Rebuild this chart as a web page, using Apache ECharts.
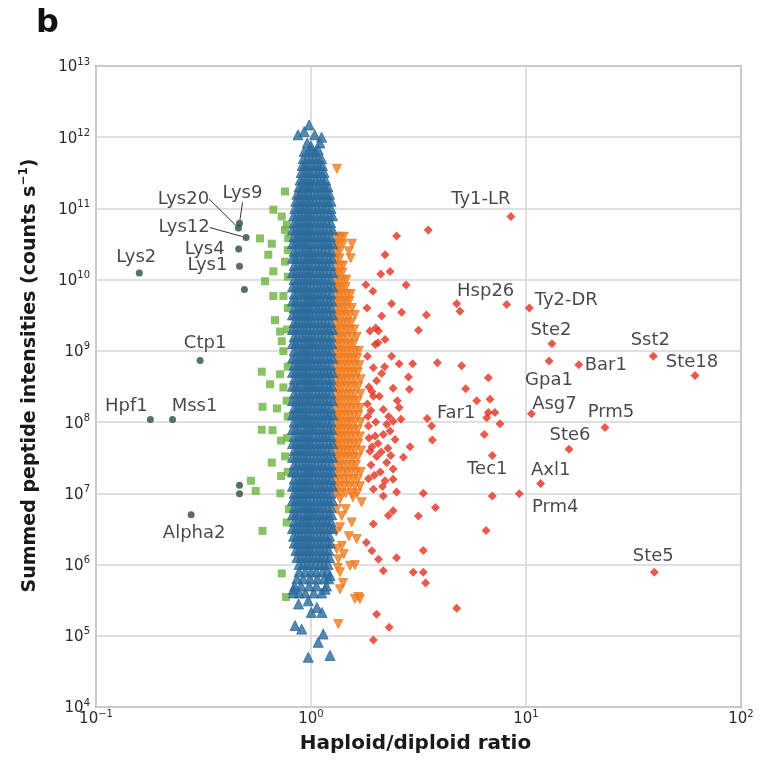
<!DOCTYPE html>
<html><head><meta charset="utf-8">
<script src="https://cdn.jsdelivr.net/npm/echarts@6/dist/echarts.min.js"></script>
<style>html,body{margin:0;padding:0;background:#fff}#c{width:763px;height:760px}</style>
</head><body><div id="c"></div>
<script>
// ---------- DATA ----------
const xTicks = [0.1, 1, 10, 100];
const yTicks = [1e4, 1e5, 1e6, 1e7, 1e8, 1e9, 1e10, 1e11, 1e12, 1e13];

// dark green (labelled genes, low ratio)
const darkNames = ['Lys2','Lys9','Lys20','Lys12','Lys4','Lys1','','Ctp1','Hpf1','Mss1','Alpha2','',''];
const darkX = [0.159,0.465,0.46,0.499,0.461,0.465,0.49,0.305,0.179,0.227,0.277,0.465,0.465];
const darkY = [1.24e10,6.2e10,5.3e10,3.9e10,2.7e10,1.54e10,7.3e9,7.3e8,1.09e8,1.09e8,4.99e6,1.3e7,9.9e6];

// red labelled genes
const redNames = ['Ty1-LR','Hsp26','Ty2-DR','Ste2','Sst2','Ste18','Bar1','Gpa1','Asg7','Prm5','Ste6','Axl1','Prm4','Tec1','Far1','Ste5'];
const redNamedX = [8.51,8.13,10.36,13.2,39.1,61.1,17.6,12.8,10.6,23.3,15.85,11.7,9.3,6.97,3.47,39.5];
const redNamedY = [7.7e10,4.47e9,4.0e9,1.26e9,8.4e8,4.5e8,6.4e8,7.2e8,1.31e8,8.4e7,4.15e7,1.37e7,9.9e6,3.4e7,1.12e8,7.8e5];

// red unlabelled
const redPoints = [[3.51,5.0e10],[2.50,4.1e10],[2.21,2.24e10],[2.33,1.3e10],[2.11,1.2e10],[2.77,8.4e9],[1.80,8.5e9],[1.94,6.9e9],
[2.37,4.6e9],[2.64,3.5e9],[3.44,3.2e9],[2.13,3.1e9],[3.16,1.95e9],[1.88,1.9e9],[2.06,1.9e9],[2.21,1.44e9],[1.99,1.23e9],
[1.83,8.4e8],[2.37,8.4e8],[2.57,6.6e8],[2.97,6.6e8],[3.87,6.8e8],[5.02,6.2e8],[6.68,4.2e8],[1.95,5.8e8],[2.13,4.8e8],
[2.02,3.8e8],[2.84,4.3e8],[2.41,3.0e8],[2.87,2.9e8],[5.24,2.95e8],[1.92,2.7e8],[1.95,2.3e8],[5.90,2.0e8],[6.80,2.1e8],
[2.17,1.5e8],[2.57,1.6e8],[6.68,1.36e8],[7.17,1.36e8],[6.57,1.15e8],[7.57,9.5e7],[6.40,6.7e7],[3.64,8.8e7],[3.67,5.6e7],
[1.85,8.8e7],[2.25,9.3e7],[2.41,1.03e8],[1.99,6.4e7],[2.17,6.7e7],[2.33,7.5e7],[2.46,5.7e7],[2.89,4.5e7],[1.88,3.9e7],
[2.02,3.3e7],[2.25,2.7e7],[2.41,2.2e7],[2.69,3.2e7],[2.21,1.5e7],[2.41,1.58e7],[1.95,1.14e7],[3.33,1.0e7],[2.17,9.2e6],
[2.50,1.04e7],[3.79,6.3e6],[2.41,5.7e6],[2.29,4.9e6],[3.16,4.8e6],[1.95,3.7e6],[6.52,3.0e6],[1.81,2.04e6],[1.92,1.56e6],
[2.06,1.19e6],[2.50,1.25e6],[3.33,1.58e6],[2.17,8.2e5],[2.99,7.8e5],[3.33,7.8e5],[3.41,5.5e5],[4.76,2.43e5],[2.02,2.0e5],
[2.31,1.32e5],[1.95,8.7e4],[4.76,4.6e9],[4.93,3.6e9],[6.97,9.2e6],
[1.84,1.2e8],[1.90,1.45e8],[2.00,1.0e8],[2.30,1.2e8],[2.05,5.0e7],[1.90,2.5e7],[2.10,2.0e7],[1.85,1.6e7],[2.52,2.0e8],
[2.62,1.1e8],[2.00,2.1e9],[1.82,4.0e9],[1.86,3.1e8],[2.20,6.0e8],[2.05,1.3e9],[1.92,4.5e7],[2.12,3.8e7],
[1.83,1.8e8],[2.08,2.3e8],[2.28,4.3e7],[1.97,1.8e7],[2.15,1.25e7],[1.86,6.0e7],[2.35,3.4e7]];

// green (lower ratio)
const greenPoints = [[0.757,1.73e11],[0.668,9.6e10],[0.731,7.7e10],[0.771,5.9e10],[0.757,5.0e10],[0.579,3.8e10],[0.657,3.2e10],
[0.784,3.8e10],[0.633,2.24e10],[0.757,1.79e10],[0.668,1.31e10],[0.611,9.5e9],[0.668,5.9e9],[0.744,5.9e9],[0.680,2.7e9],
[0.718,1.87e9],[0.731,1.37e9],[0.744,9.9e8],[0.590,5.1e8],[0.718,4.7e8],[0.645,3.4e8],[0.744,3.07e8],[0.595,1.64e8],
[0.695,1.56e8],[0.590,7.8e7],[0.662,7.7e7],[0.726,5.5e7],[0.757,3.3e7],[0.657,2.7e7],[0.726,1.75e7],[0.526,1.5e7],
[0.553,1.08e7],[0.720,1.0e7],[0.771,3.9e6],[0.595,2.97e6],[0.731,7.5e5],[0.765,3.5e5],
[0.78,2.6e10],[0.78,1.1e10],[0.78,4.0e9],[0.775,2.0e9],[0.78,6.0e8],[0.77,2.0e8],[0.78,1.2e8],[0.775,6.0e7],[0.78,2.0e7],[0.79,6.0e6]];

// orange (higher ratio) rows: [intensity, [ratios]]
const orangeRows = [
[3.6e11,[1.32]],
[4.0e10,[1.32,1.37,1.42]],[3.2e10,[1.31,1.36,1.41,1.55]],[2.5e10,[1.31,1.36,1.50]],[2.0e10,[1.31,1.36,1.53]],
[1.58e10,[1.31,1.36,1.41]],[1.26e10,[1.31,1.35,1.40]],[1.0e10,[1.31,1.36,1.41,1.46]],[7.9e9,[1.31,1.35,1.40,1.45]],
[6.3e9,[1.31,1.36,1.41,1.47,1.53]],[5.0e9,[1.31,1.35,1.40,1.45,1.51]],[4.0e9,[1.31,1.36,1.41,1.47,1.55]],
[3.2e9,[1.31,1.35,1.40,1.46,1.52,1.60]],[2.5e9,[1.31,1.36,1.41,1.47,1.54]],[2.0e9,[1.31,1.35,1.40,1.46,1.52,1.59]],
[1.58e9,[1.31,1.36,1.41,1.47,1.55,1.63]],[1.26e9,[1.31,1.35,1.40,1.46,1.52,1.58]],[1.0e9,[1.31,1.36,1.41,1.47,1.53,1.60,1.67]],
[7.9e8,[1.31,1.35,1.40,1.46,1.52,1.58,1.64]],[6.3e8,[1.31,1.36,1.41,1.47,1.53,1.60,1.68]],[5.0e8,[1.31,1.35,1.40,1.46,1.52,1.58,1.65]],
[4.0e8,[1.31,1.36,1.41,1.47,1.54,1.61,1.70]],[3.2e8,[1.31,1.35,1.40,1.46,1.52,1.59,1.66]],[2.5e8,[1.31,1.36,1.41,1.47,1.53,1.60,1.70]],
[2.0e8,[1.31,1.35,1.40,1.46,1.52,1.58,1.65]],[1.58e8,[1.31,1.36,1.41,1.47,1.54,1.61,1.69]],[1.26e8,[1.31,1.35,1.40,1.46,1.52,1.59,1.66]],
[1.0e8,[1.31,1.36,1.41,1.47,1.53,1.60,1.70]],[7.9e7,[1.31,1.35,1.40,1.46,1.52,1.58,1.65]],[6.3e7,[1.31,1.36,1.41,1.47,1.54,1.61,1.69]],
[5.0e7,[1.31,1.35,1.40,1.46,1.52,1.59,1.66]],[4.0e7,[1.31,1.36,1.41,1.47,1.53,1.60,1.71]],[3.2e7,[1.31,1.35,1.40,1.46,1.52,1.58,1.65]],
[2.5e7,[1.31,1.36,1.41,1.48,1.55,1.62]],[2.0e7,[1.31,1.35,1.41,1.47,1.54,1.62,1.70]],[1.58e7,[1.31,1.36,1.42,1.49,1.57,1.65]],
[1.26e7,[1.31,1.36,1.43,1.51,1.60,1.69]],[1.0e7,[1.31,1.37,1.45,1.55,1.64]],
[8.3e6,[1.364]],[8.8e6,[1.568]],[7.5e6,[1.72]],[6.0e6,[1.317,1.45]],[4.8e6,[1.39]],[3.9e6,[1.546]],[3.35e6,[1.364]],
[2.9e6,[1.31]],[2.5e6,[1.50]],[2.28e6,[1.63]],[1.83e6,[1.39]],[1.65e6,[1.317]],[1.4e6,[1.42]],[1.19e6,[1.34]],
[9.8e5,[1.60]],[9.6e5,[1.52]],[9.0e5,[1.33]],[7.8e5,[1.364]],[5.5e5,[1.41]],[4.5e5,[1.364]],[3.5e5,[1.66]],
[3.3e5,[1.60,1.69]],[1.46e5,[1.34]]];

// blue (ratio near 1) rows: [intensity, [ratios]]
const blueRows = [
[1.49e12,[0.98]],[1.2e12,[0.93]],[1.08e12,[0.87,1.04]],[1.0e12,[1.12]],[8.3e11,[0.96,1.10]],[7.5e11,[1.00]],[6.7e11,[1.08]],
[6.3e11,[0.93,0.97,1.01,1.05]],
[5.0e11,[0.92,0.96,1.00,1.04,1.08,1.12]],
[4.0e11,[0.91,0.94,0.97,1.01,1.05,1.09,1.13]],
[3.2e11,[0.90,0.93,0.96,0.99,1.03,1.07,1.11,1.15]],
[2.5e11,[0.89,0.92,0.95,0.98,1.01,1.05,1.09,1.13,1.17]],
[2.0e11,[0.88,0.91,0.94,0.97,1.00,1.04,1.08,1.12,1.16,1.20]],
[1.58e11,[0.86,0.89,0.92,0.95,0.98,1.02,1.06,1.10,1.14,1.18,1.22]],
[1.26e11,[0.85,0.88,0.91,0.94,0.97,1.00,1.04,1.08,1.12,1.16,1.20,1.24]],
[1.0e11,[0.84,0.87,0.90,0.93,0.96,0.99,1.03,1.07,1.11,1.15,1.19,1.24]],
[7.9e10,[0.83,0.86,0.89,0.92,0.95,0.98,1.01,1.05,1.09,1.13,1.17,1.22,1.26]],
[6.3e10,[0.835,0.865,0.895,0.925,0.955,0.985,1.02,1.06,1.10,1.14,1.185,1.235]],
[5.0e10,[0.82,0.85,0.88,0.91,0.94,0.97,1.00,1.04,1.08,1.12,1.16,1.21,1.26]],
[4.0e10,[0.835,0.865,0.895,0.925,0.955,0.985,1.02,1.06,1.10,1.14,1.185,1.235]],
[3.2e10,[0.82,0.85,0.88,0.91,0.94,0.97,1.01,1.05,1.09,1.13,1.17,1.21,1.26]],
[2.5e10,[0.835,0.865,0.90,0.93,0.96,0.99,1.02,1.06,1.10,1.14,1.19,1.24]],
[2.0e10,[0.82,0.85,0.88,0.92,0.95,0.98,1.01,1.04,1.08,1.12,1.16,1.21,1.25]],
[1.58e10,[0.835,0.87,0.90,0.93,0.96,0.99,1.03,1.07,1.11,1.15,1.19,1.24]],
[1.26e10,[0.82,0.85,0.88,0.91,0.94,0.97,1.00,1.04,1.08,1.12,1.16,1.21,1.26]],
[1.0e10,[0.835,0.865,0.895,0.925,0.955,0.985,1.02,1.06,1.10,1.14,1.185,1.235]],
[7.9e9,[0.82,0.85,0.88,0.91,0.94,0.97,1.01,1.05,1.09,1.13,1.17,1.21,1.26]],
[6.3e9,[0.835,0.865,0.90,0.93,0.96,0.99,1.02,1.06,1.10,1.14,1.19,1.24]],
[5.0e9,[0.82,0.85,0.88,0.92,0.95,0.98,1.01,1.04,1.08,1.12,1.16,1.21,1.25]],
[4.0e9,[0.835,0.87,0.90,0.93,0.96,0.99,1.03,1.07,1.11,1.15,1.19,1.24]],
[3.2e9,[0.82,0.85,0.88,0.91,0.94,0.97,1.00,1.04,1.08,1.12,1.16,1.21,1.26]],
[2.5e9,[0.835,0.865,0.895,0.925,0.955,0.985,1.02,1.06,1.10,1.14,1.185,1.235]],
[2.0e9,[0.82,0.85,0.88,0.91,0.94,0.97,1.01,1.05,1.09,1.13,1.17,1.21,1.26]],
[1.58e9,[0.835,0.865,0.90,0.93,0.96,0.99,1.02,1.06,1.10,1.14,1.19,1.24]],
[1.26e9,[0.82,0.85,0.88,0.92,0.95,0.98,1.01,1.04,1.08,1.12,1.16,1.21,1.25]],
[1.0e9,[0.835,0.87,0.90,0.93,0.96,0.99,1.03,1.07,1.11,1.15,1.19,1.24]],
[7.9e8,[0.82,0.85,0.88,0.91,0.94,0.97,1.00,1.04,1.08,1.12,1.16,1.21,1.26]],
[6.3e8,[0.835,0.865,0.895,0.925,0.955,0.985,1.02,1.06,1.10,1.14,1.185,1.235]],
[5.0e8,[0.82,0.85,0.88,0.91,0.94,0.97,1.01,1.05,1.09,1.13,1.17,1.21,1.26]],
[4.0e8,[0.835,0.865,0.90,0.93,0.96,0.99,1.02,1.06,1.10,1.14,1.19,1.24]],
[3.2e8,[0.82,0.85,0.88,0.92,0.95,0.98,1.01,1.04,1.08,1.12,1.16,1.21,1.25]],
[2.5e8,[0.835,0.87,0.90,0.93,0.96,0.99,1.03,1.07,1.11,1.15,1.19,1.24]],
[2.0e8,[0.82,0.85,0.88,0.91,0.94,0.97,1.00,1.04,1.08,1.12,1.16,1.21,1.26]],
[1.58e8,[0.835,0.865,0.895,0.925,0.955,0.985,1.02,1.06,1.10,1.14,1.185,1.235]],
[1.26e8,[0.82,0.85,0.88,0.91,0.94,0.97,1.01,1.05,1.09,1.13,1.17,1.21,1.26]],
[1.0e8,[0.835,0.865,0.90,0.93,0.96,0.99,1.02,1.06,1.10,1.14,1.19,1.24]],
[7.9e7,[0.82,0.85,0.88,0.92,0.95,0.98,1.01,1.04,1.08,1.12,1.16,1.21,1.25]],
[6.3e7,[0.835,0.87,0.90,0.93,0.96,0.99,1.03,1.07,1.11,1.15,1.19,1.24]],
[5.0e7,[0.82,0.85,0.88,0.91,0.94,0.97,1.00,1.04,1.08,1.12,1.16,1.21,1.26]],
[4.0e7,[0.835,0.865,0.895,0.925,0.955,0.985,1.02,1.06,1.10,1.14,1.185,1.235]],
[3.2e7,[0.82,0.85,0.88,0.91,0.94,0.97,1.01,1.05,1.09,1.13,1.17,1.21,1.26]],
[2.5e7,[0.835,0.865,0.90,0.93,0.96,0.99,1.02,1.06,1.10,1.14,1.19,1.24]],
[2.0e7,[0.82,0.85,0.88,0.92,0.95,0.98,1.01,1.04,1.08,1.12,1.16,1.21,1.25]],
[1.58e7,[0.835,0.87,0.90,0.93,0.96,0.99,1.03,1.07,1.11,1.15,1.19,1.24]],
[1.26e7,[0.82,0.85,0.88,0.91,0.94,0.97,1.00,1.04,1.08,1.12,1.16,1.21,1.26]],
[1.0e7,[0.835,0.865,0.895,0.925,0.955,0.985,1.02,1.06,1.10,1.14,1.185,1.235]],
[7.9e6,[0.82,0.85,0.88,0.91,0.94,0.97,1.01,1.05,1.09,1.13,1.17,1.21,1.26]],
[6.3e6,[0.835,0.865,0.90,0.93,0.96,0.99,1.02,1.06,1.10,1.14,1.19,1.24]],
[5.0e6,[0.82,0.85,0.88,0.92,0.95,0.98,1.01,1.04,1.08,1.12,1.16,1.21,1.25]],
[4.0e6,[0.835,0.87,0.90,0.93,0.96,0.99,1.03,1.07,1.11,1.15,1.19,1.24]],
[3.2e6,[0.82,0.85,0.88,0.91,0.94,0.97,1.00,1.04,1.08,1.12,1.16,1.21,1.26]],
[2.5e6,[0.83,0.86,0.89,0.92,0.95,0.98,1.01,1.05,1.09,1.13,1.17,1.22]],
[2.0e6,[0.835,0.865,0.895,0.925,0.955,0.985,1.02,1.06,1.10,1.14,1.19,1.23]],
[1.58e6,[0.85,0.88,0.91,0.94,0.97,1.00,1.04,1.08,1.12,1.16,1.21]],
[1.26e6,[0.86,0.895,0.93,0.965,1.00,1.04,1.08,1.12,1.17,1.22]],
[1.0e6,[0.88,0.92,0.96,1.00,1.05,1.10,1.15,1.20]],
[7.9e5,[0.88,0.94,1.00,1.06,1.13,1.19]],
[7.0e5,[1.226]],
[6.3e5,[0.86,0.92,0.99,1.07,1.15,1.21]],
[5.0e5,[0.84,0.90,0.98,1.06,1.18]],
[4.5e5,[0.828,1.163]],
[4.0e5,[0.83,0.88,0.94,1.03,1.12]],
[3.1e5,[0.971]],[2.8e5,[0.875]],[2.5e5,[1.065]],[2.13e5,[1.003,1.124]],
[1.39e5,[0.843]],[1.24e5,[0.905]],[1.06e5,[1.14]],[8.1e4,[1.08]],[5.3e4,[1.226]],[5.0e4,[0.971]]];

// ---------- STYLE (label placements, colours) ----------
const FONT = 'DejaVu Sans';
const C = {blue:'#2b6c9c', orange:'#f07d22', red:'#e2321f', green:'#6cb33e', dark:'#2b4f38', text:'#1a1a1a'};
const labelOffset = {
  'Lys2':[-3,-16],'Lys4':[-34,0],'Lys1':[-32,-1],'Ctp1':[5,-17],'Hpf1':[-24,-13],'Mss1':[22,-13],'Alpha2':[3,18],
  'Lys9':[3,-30],'Lys20':[-55,-29],'Lys12':[-62,-10],
  'Ty1-LR':[-30,-17],'Hsp26':[-21,-13],'Ty2-DR':[37,-8],'Ste2':[-1,-13],'Sst2':[-3,-16],'Ste18':[-3,-13],'Bar1':[27,1],
  'Gpa1':[0,19],'Asg7':[23,-9],'Prm5':[6,-15],'Ste6':[1,-14],'Axl1':[10,-13],'Prm4':[36,14],'Tec1':[-5,14],'Far1':[29,-5],'Ste5':[-1,-16]
};
const withLeader = {'Lys9':true,'Lys20':true,'Lys12':true};

function rowsToPoints(rows){ const out=[]; rows.forEach(r=>r[1].forEach(x=>out.push([x,r[0]]))); return out; }
function labelled(names, xs, ys, useLayout){
  return names.map((n,i)=>{
    const item = {value:[xs[i], ys[i]], name:n};
    if (n) {
      item.label = {show:true, formatter:n, position:'inside', offset: useLayout ? [0,0] : (labelOffset[n] || [0,0])};
      if (withLeader[n]) item.labelLine = {show:true, lineStyle:{color:'#333', width:1}};
    }
    return item;
  });
}
const labelText = {fontFamily:FONT, fontSize:18, color:C.text};

function fmt(v){ const e = Math.round(Math.log10(v)); return '{b|10}{s|' + (e<0 ? '\u2212'+(-e) : e) + '}'; }
const tickRich = {
  b:{fontFamily:FONT, fontSize:15, color:'#2a2a2a', lineHeight:18, verticalAlign:'bottom'},
  s:{fontFamily:FONT, fontSize:10, color:'#2a2a2a', lineHeight:11, verticalAlign:'top'}
};

const chart = echarts.init(document.getElementById('c'));
chart.setOption({
  animation:false,
  backgroundColor:'#fff',
  graphic:[{type:'text', left:36, top:8, style:{text:'b', fontFamily:FONT, fontWeight:'bold', fontSize:32, fill:'#111'}}],
  grid:{left:96, right:22, top:66, bottom:52, show:true, borderColor:'#a8a8a8', borderWidth:2, backgroundColor:'transparent'},
  xAxis:{type:'log', logBase:10, min:xTicks[0], max:xTicks[xTicks.length-1], interval:1,
    name:'Haploid/diploid ratio', nameLocation:'middle', nameGap:26,
    nameTextStyle:{fontFamily:FONT, fontWeight:'bold', fontSize:20, color:'#1a1a1a', lineHeight:22, padding:[0,6,0,0]},
    axisLine:{show:false}, axisTick:{show:false},
    axisLabel:{formatter:fmt, rich:tickRich, margin:2, showMinLabel:true, showMaxLabel:true},
    splitLine:{show:true, lineStyle:{color:'#d6d6d6', width:1.5}}},
  yAxis:{type:'log', logBase:10, min:yTicks[0], max:yTicks[yTicks.length-1], interval:1,
    name:'{n|Summed peptide intensities (counts s}{s|\u22121}{n|)}', nameLocation:'middle', nameGap:56,
    nameTextStyle:{padding:[0,0,0,22], rich:{
      n:{fontFamily:FONT, fontWeight:'bold', fontSize:19, color:'#1a1a1a', lineHeight:22, verticalAlign:'bottom'},
      s:{fontFamily:FONT, fontWeight:'bold', fontSize:12, color:'#1a1a1a', lineHeight:12, verticalAlign:'top'}}},
    axisLine:{show:false}, axisTick:{show:false},
    axisLabel:{formatter:fmt, rich:tickRich, margin:6, showMinLabel:true, showMaxLabel:true},
    splitLine:{show:true, lineStyle:{color:'#d6d6d6', width:1.5}}},
  series:[
    {type:'scatter', name:'green', symbol:'rect', symbolSize:8, itemStyle:{color:C.green}, data:greenPoints, z:2},
    {type:'scatter', name:'orange', symbol:'triangle', symbolRotate:180, symbolSize:9, itemStyle:{color:C.orange, borderColor:C.orange, borderWidth:1}, data:rowsToPoints(orangeRows), z:3},
    {type:'scatter', name:'blue', symbol:'triangle', symbolSize:10, itemStyle:{color:C.blue, borderColor:C.blue, borderWidth:1}, data:rowsToPoints(blueRows), z:4},
    {type:'scatter', name:'red', symbol:'diamond', symbolSize:9, itemStyle:{color:C.red}, data:redPoints, z:5},
    {type:'scatter', name:'redNamed', symbol:'diamond', symbolSize:9, itemStyle:{color:C.red}, z:6,
      label:labelText, data:labelled(redNames, redNamedX, redNamedY, false)},
    {type:'scatter', name:'dark', symbol:'circle', symbolSize:7, itemStyle:{color:C.dark}, z:7,
      label:labelText,
      labelLayout:function(p){ const n = darkNames[p.dataIndex]; const s = labelOffset[n]; return s ? {dx:s[0], dy:s[1]} : {}; },
      data:labelled(darkNames, darkX, darkY, true)}
  ]
});
</script></body></html>
